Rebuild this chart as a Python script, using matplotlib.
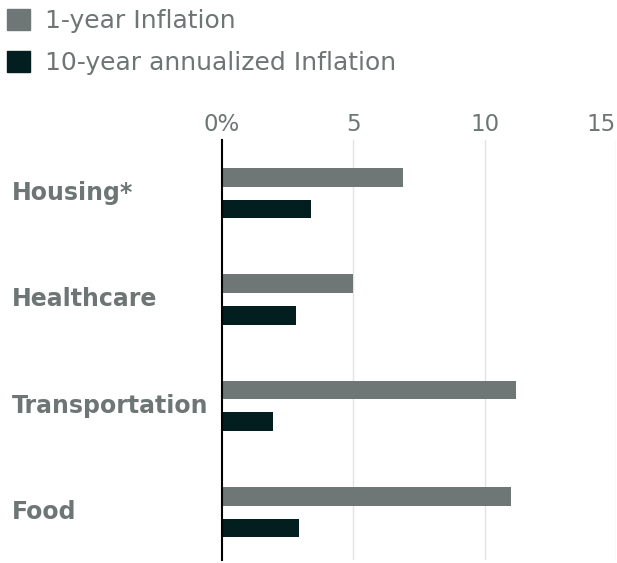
import matplotlib.pyplot as plt
from matplotlib.patches import Patch
import numpy as np

categories = ['Housing*', 'Healthcare', 'Transportation', 'Food']
one_year = [6.9, 5.0, 11.2, 11.0]
ten_year = [3.4, 2.8, 1.95, 2.95]
xticks = [0, 5, 10, 15]
xtick_labels = ['0%', '5', '10', '15']

light = '#6f7776'
dark = '#021e1f'
text_gray = '#6e7575'

plt.rcParams['font.family'] = ['DejaVu Sans']

fig = plt.figure(figsize=(6.17, 5.63), dpi=100)
ax = fig.add_axes([222 / 617, 3 / 563, 394 / 617, 420 / 563])

y = np.arange(len(categories))
off = 0.149
h = 0.175
ax.barh(y - off, one_year, height=h, color=light, label='1-year Inflation')
ax.barh(y + off, ten_year, height=h, color=dark, label='10-year annualized Inflation')

ax.set_xlim(0, 15)
ax.set_ylim(3.45, -0.5)
ax.set_xticks(xticks)
ax.set_xticklabels(xtick_labels, fontsize=16.5, color=text_gray)
ax.xaxis.tick_top()
ax.tick_params(axis='x', length=0, pad=3)
last = ax.get_xticklabels()[-1]
last.set_horizontalalignment('right')
ax.set_yticks(y)
ax.set_yticklabels([])
ax.tick_params(axis='y', length=0)
for i, c in enumerate(categories):
    ax.text(-210 / 394, i, c, transform=ax.get_yaxis_transform(),
            ha='left', va='center', fontsize=17, fontweight='bold', color=text_gray)

for v in xticks[1:]:
    ax.axvline(v, color='#e3e3e3', lw=1, zorder=0)

for s in ['top', 'right', 'bottom']:
    ax.spines[s].set_visible(False)
ax.spines['left'].set_color('black')
ax.spines['left'].set_linewidth(1.5)

handles = [Patch(color=light, label='1-year Inflation'),
           Patch(color=dark, label='10-year annualized Inflation')]
fig.legend(handles=handles, loc='upper left', bbox_to_anchor=(7 / 617, 1 - 9 / 563),
           frameon=False, labelcolor=text_gray, prop={'size': 18},
           borderpad=0, borderaxespad=0,
           handlelength=0.92, handleheight=0.92, handletextpad=0.6, labelspacing=0.72)

fig.savefig('out.png', dpi=100)
